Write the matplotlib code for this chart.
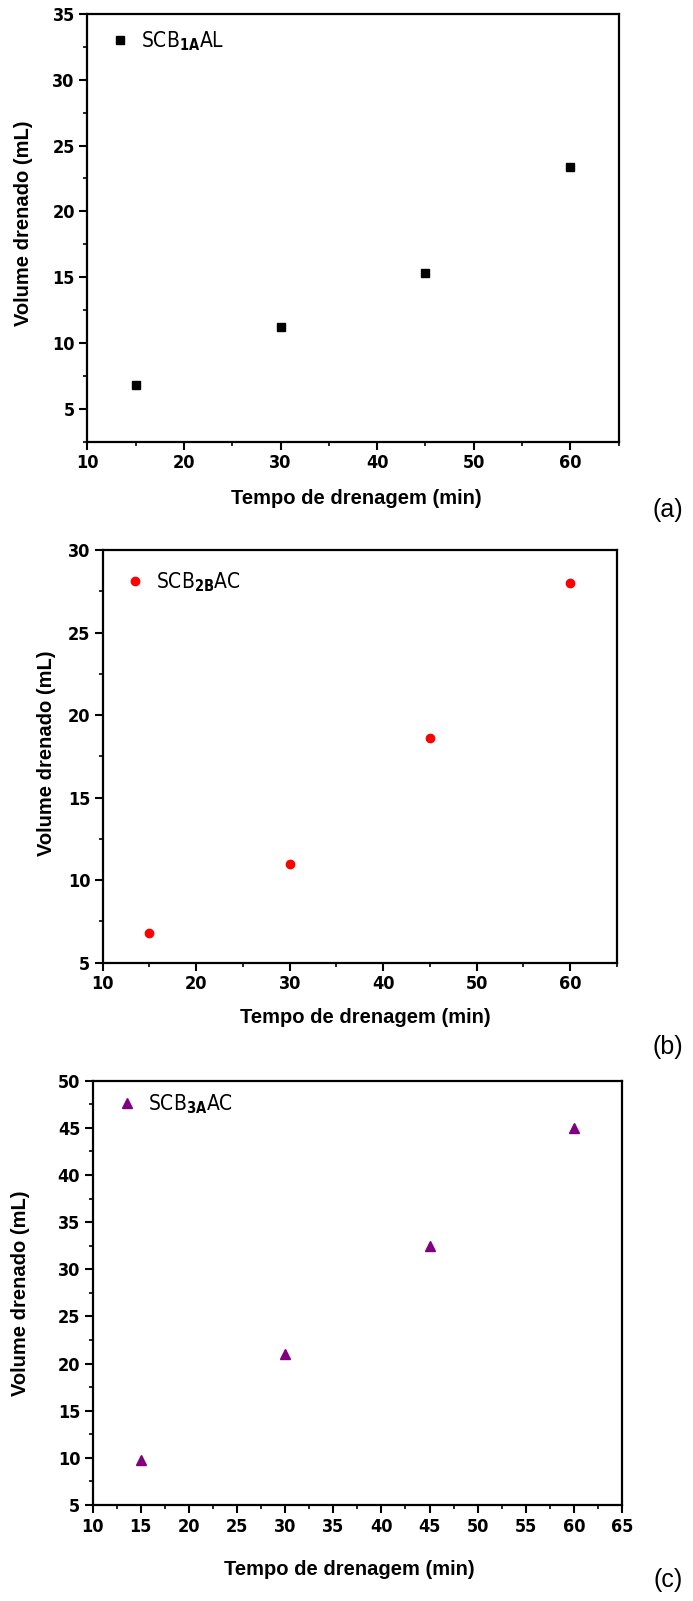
import matplotlib
matplotlib.use("Agg")
import matplotlib.pyplot as plt
from matplotlib.ticker import MultipleLocator

# ----------------------------
# Data
# ----------------------------
tempo = [15, 30, 45, 60]
vol_a = [6.8, 11.2, 15.3, 23.4]
vol_b = [6.8, 11.0, 18.6, 28.0]
vol_c = [9.8, 21.0, 32.5, 45.0]

labels = [r"SCB$_{\mathbf{1A}}$AL", r"SCB$_{\mathbf{2B}}$AC", r"SCB$_{\mathbf{3A}}$AC"]
panel_tags = ["(a)", "(b)", "(c)"]

W, H = 693, 1601
plt.rcParams["font.family"] = ["Liberation Sans", "DejaVu Sans"]
plt.rcParams["mathtext.fontset"] = "custom"
plt.rcParams["mathtext.rm"] = "DejaVu Sans:stretch=condensed"
plt.rcParams["mathtext.bf"] = "DejaVu Sans:bold:stretch=condensed"

fig = plt.figure(figsize=(W / 100, H / 100), dpi=100)


def px_axes(x0, y0, x1, y1):
    # pixel box (left, top, right, bottom) -> figure fraction
    return fig.add_axes([x0 / W, 1 - y1 / H, (x1 - x0) / W, (y1 - y0) / H])


def style_panel(ax, xlim, ylim, xmaj, ymaj):
    ax.set_xlim(*xlim)
    ax.set_ylim(*ylim)
    ax.xaxis.set_major_locator(MultipleLocator(xmaj))
    ax.xaxis.set_minor_locator(MultipleLocator(xmaj / 2))
    ax.yaxis.set_major_locator(MultipleLocator(ymaj))
    ax.yaxis.set_minor_locator(MultipleLocator(ymaj / 2))
    ax.tick_params(which="major", direction="out", length=6, width=1.5, pad=3)
    ax.tick_params(which="minor", direction="out", length=3, width=1.2)
    for s in ax.spines.values():
        s.set_linewidth(1.6)
    for lab in ax.get_xticklabels() + ax.get_yticklabels():
        lab.set_family("DejaVu Sans")
        lab.set_fontstretch("condensed")
        lab.set_fontweight("bold")
        lab.set_fontsize(13)


def axis_labels(ax, xl_pos, yl_pos):
    ax.set_xlabel("Tempo de drenagem (min)", fontsize=14.5, fontweight="bold")
    ax.set_ylabel("Volume drenado (mL)", fontsize=14.5, fontweight="bold")
    ax.xaxis.set_label_coords(xl_pos[0] / W, 1 - xl_pos[1] / H, transform=fig.transFigure)
    ax.yaxis.set_label_coords(yl_pos[0] / W, 1 - yl_pos[1] / H, transform=fig.transFigure)
    ax.xaxis.label.set_verticalalignment("center")
    ax.yaxis.label.set_verticalalignment("center")


def add_legend(ax, dx, dy):
    bw = ax.get_position().width * W
    bh = ax.get_position().height * H
    ax.legend(loc="upper left", frameon=False, handlelength=1.0,
              handletextpad=0.5, borderpad=0, borderaxespad=0,
              bbox_to_anchor=(dx / bw, 1 - dy / bh),
              prop={"family": "DejaVu Sans", "stretch": "condensed", "size": 15})


# ----------------------------
# Panel (a)
# ----------------------------
ax1 = px_axes(87.3, 14, 618.7, 441.7)
ax1.plot(tempo, vol_a, ls="none", marker="s", ms=6.3, color="black", label=labels[0])
style_panel(ax1, (10, 65), (2.5, 35), 10, 5)
axis_labels(ax1, (356, 499), (24, 223))
add_legend(ax1, 22, 15)

# ----------------------------
# Panel (b)
# ----------------------------
ax2 = px_axes(102.7, 550, 617, 962.7)
ax2.plot(tempo, vol_b, ls="none", marker="o", ms=6, color="red", label=labels[1])
style_panel(ax2, (10, 65), (5, 30), 10, 5)
axis_labels(ax2, (365, 1017), (47, 753))
add_legend(ax2, 22, 20)

# ----------------------------
# Panel (c)
# ----------------------------
ax3 = px_axes(92.7, 1080.7, 622, 1505)
ax3.plot(tempo, vol_c, ls="none", marker="^", ms=7.5, color="#800080", label=labels[2])
style_panel(ax3, (10, 65), (5, 50), 5, 5)
axis_labels(ax3, (349, 1569), (21, 1293))
add_legend(ax3, 24, 12)

# panel tags on the right
for tag, ypos in zip(panel_tags, [510, 1047, 1580]):
    fig.text(668 / W, 1 - ypos / H, tag, fontsize=18, ha="center", va="center")

fig.savefig("out.png", dpi=100)
